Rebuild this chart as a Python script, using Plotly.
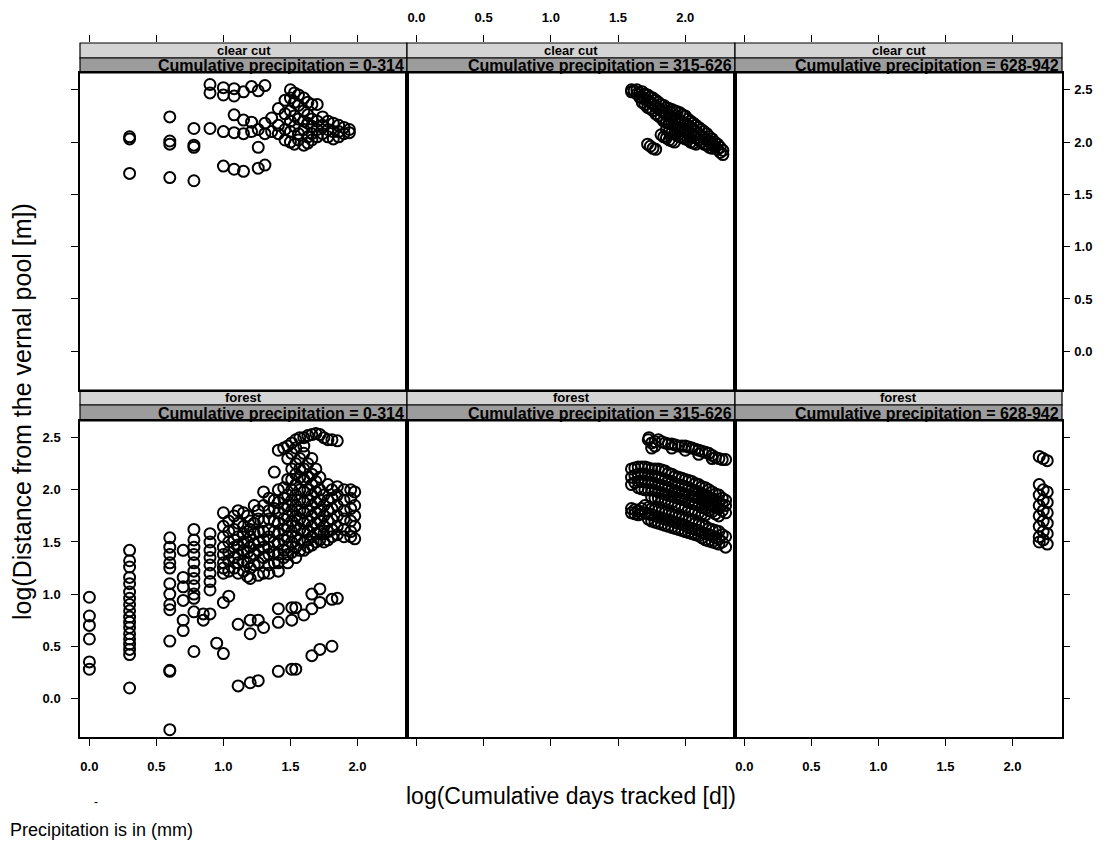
import plotly.graph_objects as go

# ---------------- data (log10 days tracked, log10 distance) ----------------
habitats = ["clear cut", "forest"]
precip_bins = ["0-314", "315-626", "628-942"]
tick_vals = [0.0, 0.5, 1.0, 1.5, 2.0]
y_tick_vals = [0.0, 0.5, 1.0, 1.5, 2.0, 2.5]

# clear cut, 0-314 : (x, [y...]) columns
cc1_cols = [
    (0.30, [2.05, 2.03, 1.70]),
    (0.60, [2.24, 2.01, 1.98, 1.66]),
    (0.78, [2.13, 1.97, 1.95, 1.63]),
    (0.90, [2.55, 2.47, 2.13]),
    (1.00, [2.52, 2.45, 2.10, 1.77]),
    (1.08, [2.51, 2.44, 2.26, 2.09, 1.74]),
    (1.15, [2.48, 2.21, 2.08, 1.72]),
    (1.21, [2.53, 2.19, 2.10]),
    (1.26, [2.49, 2.12, 1.95, 1.75]),
    (1.31, [2.54, 2.18, 2.08, 1.78]),
    (1.36, [2.23, 2.10]),
    (1.41, [2.32, 2.16, 2.08]),
    (1.46, [2.40, 2.27, 2.12, 2.02]),
    (1.50, [2.50, 2.42, 2.30, 2.20, 2.10, 2.00]),
    (1.53, [2.47, 2.38, 2.25, 2.15, 1.98]),
    (1.56, [2.45, 2.35, 2.22, 2.08, 2.02]),
    (1.60, [2.42, 2.30, 2.20, 2.12, 1.97]),
    (1.63, [2.38, 2.26, 2.18, 2.05, 1.99]),
    (1.66, [2.36, 2.22, 2.15, 2.08, 2.02]),
    (1.70, [2.36, 2.20, 2.12, 2.05]),
    (1.74, [2.24, 2.16, 2.08]),
    (1.78, [2.20, 2.12, 2.05]),
    (1.82, [2.18, 2.10, 2.03]),
    (1.86, [2.16, 2.10, 2.05]),
    (1.90, [2.14, 2.08]),
    (1.94, [2.12, 2.09]),
]

# clear cut, 315-626
cc2_cols = [
    (1.60, [2.50, 2.48]),
    (1.62, [2.49]),
    (1.64, [2.50, 2.46]),
    (1.66, [2.47, 2.43]),
    (1.68, [2.48, 2.42, 2.38]),
    (1.70, [2.46, 2.41, 2.36]),
    (1.72, [2.45, 2.40, 2.33, 1.98]),
    (1.74, [2.43, 2.38, 2.32, 1.96]),
    (1.76, [2.42, 2.36, 2.30, 1.94]),
    (1.78, [2.40, 2.34, 2.27, 1.93]),
    (1.80, [2.38, 2.32, 2.25]),
    (1.82, [2.36, 2.30, 2.23, 2.07]),
    (1.84, [2.35, 2.28, 2.20, 2.05]),
    (1.86, [2.33, 2.27, 2.19, 2.12, 2.04]),
    (1.88, [2.32, 2.25, 2.18, 2.10, 2.02]),
    (1.90, [2.31, 2.24, 2.17, 2.09, 2.01]),
    (1.92, [2.30, 2.22, 2.15, 2.08, 2.00]),
    (1.94, [2.29, 2.21, 2.14, 2.06]),
    (1.96, [2.28, 2.20, 2.12, 2.05]),
    (1.98, [2.26, 2.19, 2.11, 2.04]),
    (2.00, [2.25, 2.18, 2.10, 2.03]),
    (2.02, [2.22, 2.16, 2.09, 2.02]),
    (2.04, [2.20, 2.14, 2.08, 2.00]),
    (2.06, [2.18, 2.12, 2.06, 1.99]),
    (2.08, [2.16, 2.10, 2.04, 1.98]),
    (2.10, [2.14, 2.08, 2.02]),
    (2.12, [2.12, 2.06, 2.00]),
    (2.14, [2.10, 2.04, 1.98]),
    (2.16, [2.08, 2.02, 1.97]),
    (2.18, [2.05, 2.00, 1.95]),
    (2.20, [2.03, 1.98, 1.94]),
    (2.22, [2.00, 1.95]),
    (2.24, [1.98, 1.93]),
    (2.26, [1.95, 1.90]),
    (2.28, [1.92, 1.88]),
]

# clear cut, 628-942 : no observations
cc3_cols = []

# forest, 0-314
fo1_cols = [
    (0.00, [0.97, 0.79, 0.70, 0.57, 0.35, 0.28]),
    (0.30, [1.42, 1.32, 1.26, 1.16, 1.10, 1.02, 0.96, 0.90, 0.84, 0.78, 0.73,
            0.68, 0.62, 0.57, 0.52, 0.47, 0.42, 0.10]),
    (0.60, [1.54, 1.45, 1.38, 1.30, 1.25, 1.10, 1.00, 0.90, 0.85, 0.55, 0.27,
            0.26, -0.30]),
    (0.70, [1.42, 1.16, 1.07, 0.94, 0.75, 0.65]),
    (0.78, [1.62, 1.52, 1.45, 1.38, 1.30, 1.22, 1.15, 1.08, 1.00, 0.96, 0.83,
            0.45]),
    (0.85, [0.81, 0.75]),
    (0.90, [1.58, 1.50, 1.42, 1.35, 1.28, 1.20, 1.12, 1.04, 0.81]),
    (0.95, [0.53]),
    (1.00, [1.78, 1.65, 1.55, 1.45, 1.38, 1.30, 1.25, 1.20, 0.92, 0.43]),
    (1.04, [1.70, 1.60, 1.50, 1.40, 1.32, 1.22, 0.98]),
    (1.08, [1.75, 1.62, 1.52, 1.45, 1.35, 1.25]),
    (1.11, [1.80, 1.68, 1.55, 1.47, 1.38, 1.30, 1.20, 0.71, 0.12]),
    (1.15, [1.78, 1.65, 1.58, 1.50, 1.42, 1.32, 1.22]),
    (1.18, [1.75, 1.60, 1.50, 1.40, 1.30, 1.17]),
    (1.20, [1.70, 1.62, 1.55, 1.45, 1.35, 1.25, 1.15, 0.75, 0.62, 0.15]),
    (1.23, [1.85, 1.68, 1.58, 1.48, 1.38, 1.28]),
    (1.26, [1.80, 1.72, 1.60, 1.50, 1.42, 1.30, 1.18, 0.75, 0.17]),
    (1.30, [1.98, 1.85, 1.70, 1.60, 1.52, 1.45, 1.35, 1.20, 0.68]),
    (1.34, [1.92, 1.80, 1.72, 1.62, 1.55, 1.45, 1.38, 1.28, 1.20]),
    (1.38, [2.17, 1.90, 1.82, 1.70, 1.60, 1.50, 1.40, 1.30]),
    (1.41, [2.38, 2.00, 1.88, 1.78, 1.68, 1.58, 1.48, 1.38, 1.30, 1.22, 0.86,
            0.73, 0.26]),
    (1.45, [2.40, 2.02, 1.92, 1.82, 1.72, 1.62, 1.52, 1.42, 1.35]),
    (1.48, [2.42, 2.30, 2.10, 1.95, 1.85, 1.75, 1.65, 1.55, 1.45, 1.38, 1.30]),
    (1.51, [2.45, 2.35, 2.20, 2.10, 2.00, 1.90, 1.80, 1.70, 1.60, 1.50, 1.40,
            0.87, 0.75, 0.28]),
    (1.54, [2.48, 2.40, 2.25, 2.15, 2.05, 1.95, 1.85, 1.75, 1.65, 1.55, 1.45,
            1.35, 0.87, 0.28]),
    (1.57, [2.50, 2.30, 2.20, 2.12, 2.00, 1.90, 1.80, 1.72, 1.62, 1.52, 1.42]),
    (1.60, [2.50, 2.42, 2.35, 2.20, 2.10, 1.98, 1.88, 1.78, 1.68, 1.60, 1.50,
            1.42, 0.80]),
    (1.63, [2.52, 2.25, 2.12, 2.00, 1.90, 1.80, 1.70, 1.60, 1.52, 1.45]),
    (1.66, [2.53, 2.30, 2.15, 2.05, 1.95, 1.85, 1.75, 1.65, 1.55, 1.47, 1.00,
            0.86, 0.41]),
    (1.69, [2.54, 2.20, 2.08, 1.98, 1.88, 1.78, 1.68, 1.58, 1.50]),
    (1.72, [2.53, 2.12, 2.00, 1.90, 1.80, 1.70, 1.60, 1.52, 1.05, 0.92, 0.47]),
    (1.75, [2.50, 1.95, 1.85, 1.75, 1.65, 1.58, 1.50]),
    (1.78, [2.48, 2.05, 1.90, 1.80, 1.70, 1.60, 1.52]),
    (1.81, [2.48, 2.00, 1.92, 1.82, 1.72, 1.62, 1.55, 0.95, 0.50]),
    (1.85, [2.47, 2.03, 1.95, 1.85, 1.75, 1.65, 1.57, 0.96]),
    (1.90, [2.00, 1.90, 1.80, 1.72, 1.62, 1.55]),
    (1.95, [2.00, 1.92, 1.82, 1.70, 1.60, 1.55]),
    (1.98, [1.98, 1.85, 1.75, 1.65, 1.53]),
]

# forest, 315-626
fo2_cols = [
    (1.600, [2.20, 2.12, 2.05, 1.82, 1.78]),
    (1.625, [2.21, 2.14, 2.07, 1.81, 1.77]),
    (1.650, [2.22, 2.15, 2.08, 2.02, 1.80, 1.76]),
    (1.675, [2.22, 2.15, 2.08, 2.01, 1.82, 1.77]),
    (1.700, [2.22, 2.15, 2.08, 2.00, 1.85, 1.78]),
    (1.725, [2.48, 2.21, 2.14, 2.07, 2.00, 1.83, 1.77, 1.72]),
    (1.730, [2.50]),
    (1.750, [2.45, 2.40, 2.20, 2.14, 2.07, 2.00, 1.93, 1.82, 1.76, 1.70]),
    (1.775, [2.46, 2.42, 2.20, 2.13, 2.06, 1.99, 1.92, 1.81, 1.75, 1.69]),
    (1.800, [2.48, 2.20, 2.12, 2.05, 1.98, 1.92, 1.80, 1.74, 1.68]),
    (1.825, [2.46, 2.19, 2.11, 2.04, 1.97, 1.91, 1.79, 1.73, 1.67]),
    (1.850, [2.45, 2.18, 2.10, 2.03, 1.96, 1.90, 1.78, 1.72, 1.66]),
    (1.875, [2.44, 2.16, 2.09, 2.02, 1.95, 1.89, 1.77, 1.71, 1.65]),
    (1.900, [2.44, 2.40, 2.15, 2.08, 2.00, 1.94, 1.88, 1.76, 1.70, 1.64]),
    (1.925, [2.43, 2.13, 2.06, 1.99, 1.93, 1.86, 1.75, 1.69, 1.63]),
    (1.950, [2.42, 2.12, 2.05, 1.98, 1.92, 1.85, 1.74, 1.68, 1.62]),
    (1.975, [2.42, 2.11, 2.04, 1.97, 1.91, 1.84, 1.73, 1.67, 1.61]),
    (2.000, [2.42, 2.38, 2.10, 2.03, 1.96, 1.90, 1.83, 1.72, 1.66, 1.60]),
    (2.025, [2.41, 2.09, 2.02, 1.95, 1.88, 1.81, 1.71, 1.64, 1.59]),
    (2.050, [2.40, 2.08, 2.00, 1.94, 1.87, 1.80, 1.70, 1.63, 1.58]),
    (2.075, [2.39, 2.06, 1.99, 1.93, 1.86, 1.79, 1.68, 1.62, 1.57]),
    (2.100, [2.38, 2.34, 2.05, 1.98, 1.92, 1.85, 1.78, 1.67, 1.61, 1.56]),
    (2.125, [2.37, 2.03, 1.96, 1.90, 1.83, 1.77, 1.66, 1.59, 1.54]),
    (2.150, [2.36, 2.02, 1.95, 1.88, 1.82, 1.76, 1.65, 1.58, 1.52]),
    (2.175, [2.35, 2.00, 1.93, 1.86, 1.80, 1.63, 1.57, 1.51]),
    (2.200, [2.33, 2.30, 1.98, 1.92, 1.85, 1.79, 1.62, 1.56, 1.50]),
    (2.225, [2.31, 1.96, 1.90, 1.83, 1.77, 1.61, 1.54, 1.49]),
    (2.250, [2.30, 1.95, 1.88, 1.82, 1.75, 1.60, 1.53, 1.48]),
    (2.275, [2.29, 1.92, 1.86, 1.80, 1.57, 1.50]),
    (2.300, [2.29, 1.90, 1.85, 1.78, 1.55, 1.45]),
]

# forest, 628-942
fo3_cols = [
    (2.20, [2.32, 2.05, 1.95, 1.85, 1.75, 1.65, 1.55, 1.50]),
    (2.23, [2.30, 2.00, 1.90, 1.80, 1.70, 1.60, 1.52]),
    (2.26, [2.28, 1.98, 1.88, 1.78, 1.68, 1.58, 1.48]),
]

panel_cols = [cc1_cols, cc2_cols, cc3_cols, fo1_cols, fo2_cols, fo3_cols]


def expand(cols):
    xs, ys = [], []
    for xv, yl in cols:
        for yv in yl:
            xs.append(xv)
            ys.append(yv)
    return xs, ys


# ---------------- layout geometry (window pixel coordinates) ----------------
OFF = 8                      # page body margin
W, H = 1107 - OFF, 844 - OFF
col_px = [(80, 407), (407, 735), (735, 1062)]
row_px = [(73, 390), (421, 737)]            # panel top/bottom
strip_px = [(43, 58, 73), (390, 405, 421)]  # strip top, split, bottom
XR = [-0.07, 2.37]
YR = [-0.37, 2.66]


def fx(px):
    return (px - OFF) / W


def fy(py):
    return 1 - (py - OFF) / H


fig = go.Figure()
tickfont = dict(family="Liberation Sans, Arial", size=13, color="black", weight="bold")

for r in range(2):
    for c in range(3):
        i = r * 3 + c + 1
        xs, ys = expand(panel_cols[i - 1])
        fig.add_trace(go.Scatter(
            x=xs if xs else [None], y=ys if ys else [None], mode="markers",
            xaxis=f"x{i}", yaxis=f"y{i}", showlegend=False,
            marker=dict(symbol="circle-open", size=11, color="black",
                        line=dict(width=2.0, color="black")),
        ))
        xa = dict(domain=[fx(col_px[c][0]), fx(col_px[c][1])], range=XR,
                  anchor=f"y{i}", showgrid=False, zeroline=False,
                  showline=True, mirror=True, linecolor="black", linewidth=1.5,
                  tickvals=tick_vals, tickformat=".1f", tickfont=tickfont)
        if r == 1:
            xa.update(ticks="outside", ticklen=7, tickwidth=1.4, tickcolor="black",
                      showticklabels=(c != 1), ticklabelstandoff=10)
        else:
            xa.update(ticks="", showticklabels=False)
        ya = dict(domain=[fy(row_px[r][1]), fy(row_px[r][0])], range=YR,
                  anchor=f"x{i}", showgrid=False, zeroline=False,
                  showline=True, mirror=True, linecolor="black", linewidth=1.5,
                  tickvals=y_tick_vals, tickformat=".1f", tickfont=tickfont)
        if c == 0:
            ya.update(side="left", ticks="outside", ticklen=7, tickwidth=1.4,
                      tickcolor="black", showticklabels=(r == 1),
                      ticklabelstandoff=8)
        elif c == 2:
            ya.update(side="right", ticks="outside", ticklen=6, tickwidth=1.4,
                      tickcolor="black", showticklabels=(r == 0),
                      ticklabelstandoff=2)
        else:
            ya.update(ticks="", showticklabels=False)
        fig.layout[f"xaxis{i}"] = xa
        fig.layout[f"yaxis{i}"] = ya

# top tick axes above the strips of the top row
fig.layout["yaxis7"] = dict(domain=[fy(strip_px[0][2]), fy(strip_px[0][0])],
                            range=[0, 1], visible=False, anchor="x7")
for c in range(3):
    k = 7 + c
    fig.add_trace(go.Scatter(x=[None], y=[None], mode="markers", xaxis=f"x{k}",
                             yaxis="y7", showlegend=False, hoverinfo="skip"))
    fig.layout[f"xaxis{k}"] = dict(
        domain=[fx(col_px[c][0]), fx(col_px[c][1])], range=XR, anchor="y7",
        side="top", showgrid=False, zeroline=False, showline=False,
        ticks="outside", ticklen=7, tickwidth=1.4, tickcolor="black",
        tickvals=tick_vals, tickformat=".1f", tickfont=tickfont,
        showticklabels=(c == 1), ticklabelstandoff=8)

# strips
shapes = []
annotations = []
stripfont1 = dict(family="Liberation Sans, Arial", size=13, color="black", weight="bold")
stripfont2 = dict(family="Liberation Sans, Arial", size=16, color="black", weight="bold")
for r in range(2):
    t, m, b = strip_px[r]
    for c in range(3):
        x0, x1 = col_px[c]
        shapes.append(dict(type="rect", xref="paper", yref="paper",
                           x0=fx(x0), x1=fx(x1), y0=fy(m), y1=fy(t),
                           fillcolor="#d4d4d4", line=dict(color="black", width=1.2),
                           layer="below"))
        shapes.append(dict(type="rect", xref="paper", yref="paper",
                           x0=fx(x0), x1=fx(x1), y0=fy(b), y1=fy(m),
                           fillcolor="#9c9c9c", line=dict(color="black", width=1.2),
                           layer="below"))
        annotations.append(dict(xref="paper", yref="paper", x=fx((x0 + x1) / 2),
                                y=fy((t + m) / 2), text=habitats[r], showarrow=False,
                                xanchor="center", yanchor="middle", font=stripfont1))
        annotations.append(dict(xref="paper", yref="paper", x=fx(x1 - 1),
                                y=fy((m + b) / 2),
                                text="Cumulative precipitation = " + precip_bins[c],
                                showarrow=False, xanchor="right", yanchor="middle",
                                font=stripfont2))

annotations.append(dict(xref="paper", yref="paper", x=fx(571), y=fy(796),
                        text="log(Cumulative days tracked [d])", showarrow=False,
                        xanchor="center", yanchor="middle",
                        font=dict(family="Liberation Sans, Arial", size=23, color="black")))
annotations.append(dict(xref="paper", yref="paper", x=fx(22), y=fy(412),
                        text="log(Distance from the vernal pool [m])", showarrow=False,
                        textangle=-90, xanchor="center", yanchor="middle",
                        font=dict(family="Liberation Sans, Arial", size=25, color="black")))
annotations.append(dict(xref="paper", yref="paper", x=0, y=fy(830),
                        text="Precipitation is in (mm)", showarrow=False,
                        xanchor="left", yanchor="middle",
                        font=dict(family="Liberation Sans, Arial", size=18, color="black")))
annotations.append(dict(xref="paper", yref="paper", x=fx(96), y=fy(802),
                        text="-", showarrow=False, xanchor="center", yanchor="middle",
                        font=dict(family="Liberation Sans, Arial", size=12, color="black")))

fig.update_layout(width=W, height=H, margin=dict(l=0, r=0, t=0, b=0),
                  paper_bgcolor="white", plot_bgcolor="white",
                  shapes=shapes, annotations=annotations)

fig.write_html("out.html")
